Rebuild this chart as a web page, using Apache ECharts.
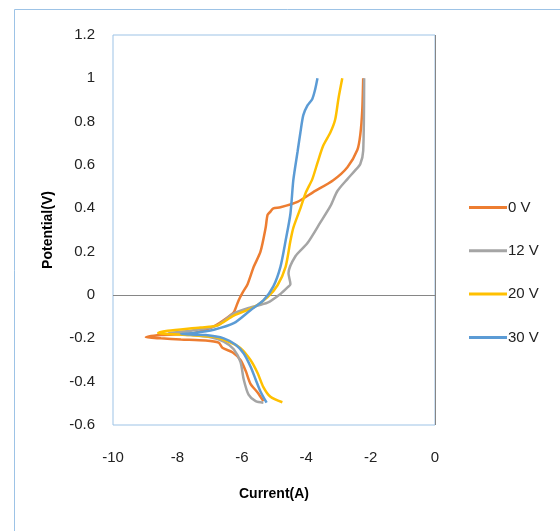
<!DOCTYPE html>
<html>
<head>
<meta charset="utf-8">
<script src="https://cdn.jsdelivr.net/npm/echarts@6/dist/echarts.min.js"></script>
<style>
html,body{margin:0;padding:0;background:#fff;}
#chart{width:560px;height:531px;}
</style>
</head>
<body>
<div id="chart"></div>
<script>
// Series names
const seriesNames = ['0 V', '12 V', '20 V', '30 V'];

// 0 V : current (A) and potential (V)
const current0V = [-5.33,-5.51,-5.73,-5.88,-6.04,-6.28,-6.59,-6.72,-7.12,-7.89,-8.51,-8.98,-8.51,-7.58,-7.12,-6.81,-6.5,-6.25,-6.19,-6.1,-5.98,-5.82,-5.63,-5.42,-5.26,-5.2,-5.11,-5.02,-4.8,-4.27,-3.78,-3.16,-2.72,-2.41,-2.32,-2.26,-2.23];
const potential0V = [-0.49,-0.45,-0.41,-0.35,-0.30,-0.265,-0.245,-0.22,-0.21,-0.205,-0.20,-0.195,-0.185,-0.178,-0.16,-0.14,-0.11,-0.08,-0.06,-0.025,0.01,0.05,0.13,0.20,0.31,0.37,0.385,0.40,0.405,0.43,0.475,0.53,0.59,0.67,0.74,0.85,1.0];

// 12 V
const current12V = [-5.33,-5.57,-5.79,-5.94,-6.04,-6.25,-6.56,-6.97,-7.58,-8.27,-7.58,-6.75,-6.25,-5.73,-5.2,-4.8,-4.58,-4.49,-4.55,-4.33,-3.96,-3.56,-3.25,-3.03,-2.72,-2.48,-2.32,-2.23,-2.2];
const potential12V = [-0.497,-0.49,-0.46,-0.39,-0.31,-0.25,-0.215,-0.195,-0.185,-0.175,-0.165,-0.14,-0.085,-0.057,-0.035,0.005,0.035,0.05,0.10,0.18,0.24,0.335,0.41,0.48,0.535,0.575,0.605,0.665,1.0];

// 20 V
const current20V = [-4.74,-5.11,-5.33,-5.51,-5.73,-6.04,-6.35,-6.81,-7.58,-8.6,-8.3,-7.28,-6.75,-6.25,-5.63,-5.2,-4.89,-4.64,-4.49,-4.4,-4.18,-4.02,-3.81,-3.65,-3.47,-3.25,-3.1,-3.0,-2.88];
const potential20V = [-0.495,-0.47,-0.425,-0.36,-0.30,-0.245,-0.22,-0.195,-0.185,-0.175,-0.165,-0.15,-0.14,-0.095,-0.057,-0.01,0.045,0.13,0.25,0.31,0.40,0.47,0.535,0.61,0.69,0.75,0.81,0.905,1.0];

// 30 V
const current30V = [-5.23,-5.42,-5.57,-5.73,-5.94,-6.19,-6.56,-7.12,-7.89,-7.49,-6.87,-6.25,-5.73,-5.33,-5.02,-4.8,-4.64,-4.49,-4.4,-4.27,-4.18,-4.09,-3.96,-3.81,-3.72,-3.65];
const potential30V = [-0.497,-0.445,-0.39,-0.33,-0.27,-0.23,-0.2,-0.185,-0.18,-0.175,-0.16,-0.13,-0.07,-0.025,0.04,0.13,0.25,0.375,0.53,0.66,0.75,0.83,0.875,0.905,0.95,1.0];

const seriesColors = ['#ED7D31', '#A5A5A5', '#FFC000', '#5B9BD5'];

const xTicks = { min: -10, max: 0, interval: 2 };
const yTicks = { min: -0.6, max: 1.2, interval: 0.2 };

const zip = (xs, ys) => xs.map((x, i) => [x, ys[i]]);
const allData = [
  zip(current0V, potential0V),
  zip(current12V, potential12V),
  zip(current20V, potential20V),
  zip(current30V, potential30V)
];

const font = "'Liberation Sans', Arial, sans-serif";

const chart = echarts.init(document.getElementById('chart'));
const series = allData.map((d, i) => ({
  name: seriesNames[i],
  type: 'line',
  data: d,
  symbol: 'none',
  smooth: 0.25,
  color: seriesColors[i],
  lineStyle: { width: 2.5, color: seriesColors[i] },
  z: 3 + i
}));
series[0].markLine = {
  silent: true,
  symbol: 'none',
  label: { show: false },
  lineStyle: { color: '#868686', width: 1, type: 'solid' },
  data: [{ yAxis: 0 }, { xAxis: 0 }],
  z: 2
};

chart.setOption({
  animation: false,
  backgroundColor: '#fff',
  graphic: [{
    type: 'rect',
    shape: { x: 14.5, y: 9.5, width: 700, height: 700 },
    style: { fill: 'none', stroke: '#9DC3E6', lineWidth: 1 },
    silent: true
  }],
  grid: {
    left: 113, top: 35, width: 322, height: 390,
    show: true, borderColor: '#9DC3E6', borderWidth: 1, backgroundColor: 'transparent'
  },
  legend: {
    orient: 'vertical',
    left: 464, top: 195,
    icon: 'rect',
    itemWidth: 38, itemHeight: 3, itemGap: 28.3,
    textStyle: { fontFamily: font, fontSize: 15, color: '#222', padding: [0, 0, 0, -4] },
    data: seriesNames
  },
  xAxis: {
    type: 'value',
    min: xTicks.min, max: xTicks.max, interval: xTicks.interval,
    axisLine: { show: false, onZero: false },
    axisTick: { show: false },
    splitLine: { show: false },
    axisLabel: { fontFamily: font, fontSize: 15, color: '#222', margin: 25 },
    name: 'Current(A)',
    nameLocation: 'middle',
    nameGap: 62,
    nameTextStyle: { fontFamily: font, fontSize: 14, fontWeight: 'bold', color: '#000' }
  },
  yAxis: {
    type: 'value',
    min: yTicks.min, max: yTicks.max, interval: yTicks.interval,
    axisLine: { show: false, onZero: false },
    axisTick: { show: false },
    splitLine: { show: false },
    axisLabel: { fontFamily: font, fontSize: 15, color: '#222', margin: 18,
      formatter: v => String(Math.round(v * 10) / 10) },
    name: 'Potential(V)',
    nameLocation: 'middle',
    nameGap: 58,
    nameRotate: 90,
    nameTextStyle: { fontFamily: font, fontSize: 14, fontWeight: 'bold', color: '#000' }
  },
  series: series
});
</script>
</body>
</html>
